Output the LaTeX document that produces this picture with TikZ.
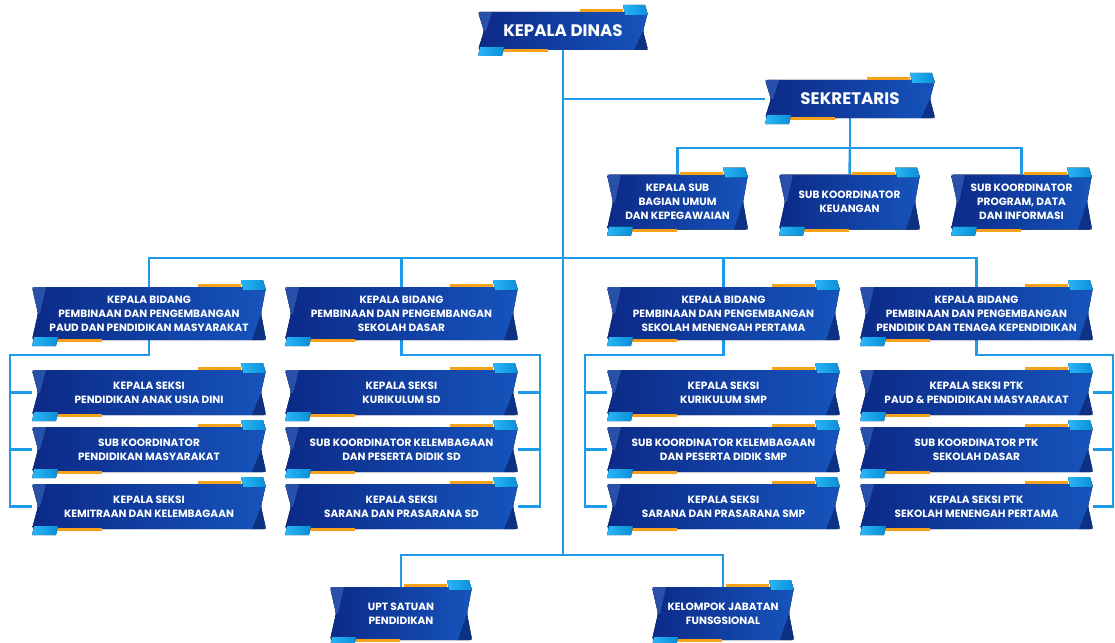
\documentclass[tikz,border=0pt]{standalone}
\usepackage{fontspec}
\setmainfont{Poppins}
\usetikzlibrary{backgrounds}

\definecolor{navy}{HTML}{0C2A88}
\definecolor{royal}{HTML}{1654BC}
\definecolor{sky}{HTML}{29B6F6}
\definecolor{skydark}{HTML}{0A8ED8}
\definecolor{amber}{HTML}{F7A21B}
\definecolor{wire}{HTML}{1E9BE6}

\tikzset{
  unit/.style={inner sep=0pt, align=center, text=white, font=\bfseries\fontsize{6}{7.9}\selectfont},
  bigunit/.style={unit, font=\bfseries\fontsize{9.5}{11}\selectfont},
  link/.style={draw=wire, line width=1.4pt},
}

% kotak unit: nama, x, y, lebar, tinggi, gaya, teks
\newcommand{\unitbox}[7]{%
  \begin{scope}[shift={(#2,#3)}]
    \pgfmathsetmacro\ha{#4/2}
    \pgfmathsetmacro\hb{#5/2}
    \fill[left color=navy, right color=royal, rounded corners=1.5pt]
      (-\ha,-\hb) -- (\ha,-\hb) -- (\ha-5,0) -- (\ha,\hb) -- (-\ha,\hb) -- (-\ha+6,0) -- cycle;
    \fill[royal!80!white, opacity=0.5] (-\ha,-\hb) -- (-\ha+14,-\hb) -- (-\ha+8,0) -- (-\ha+6,0) -- cycle;
    \fill[navy!70!black, opacity=0.6] (\ha-5,0) -- (\ha,\hb) -- (\ha-14,\hb) -- cycle;
    \fill[amber] (\ha-68,-\hb-3) rectangle (\ha-25,-\hb);
    \fill[left color=sky, right color=skydark] (\ha-25,-\hb-7) -- (\ha-3,-\hb-7) -- (\ha,-\hb+3) -- (\ha-23,-\hb+3) -- cycle;
    \fill[amber] (-\ha+25,\hb-1) rectangle (-\ha+70,\hb+2);
    \fill[left color=sky, right color=skydark] (-\ha+2,\hb-3) -- (-\ha+26,\hb-3) -- (-\ha+24,\hb+6) -- (-\ha,\hb+6) -- cycle;
  \end{scope}
  \node[#6, minimum width=#4*0.02cm, minimum height=#5*0.02cm] (#1) at (#2,#3) {#7};
}

\begin{document}
\begin{tikzpicture}[x=0.02cm, y=-0.02cm]
  \useasboundingbox (0,0) rectangle (1115,642);

  % pimpinan
  \unitbox{kadis}{563}{31}{170}{38}{bigunit}{KEPALA DINAS}
  \unitbox{sekretaris}{850}{99}{170}{38}{bigunit}{SEKRETARIS}

  % sekretariat
  \unitbox{subumum}{677.5}{202}{141}{55}{unit}{KEPALA SUB\\BAGIAN UMUM\\DAN KEPEGAWAIAN}
  \unitbox{subkeu}{849.5}{202}{141}{55}{unit}{SUB KOORDINATOR\\KEUANGAN}
  \unitbox{subprog}{1021.5}{202}{141}{55}{unit}{SUB KOORDINATOR\\PROGRAM, DATA\\DAN INFORMASI}

  % bidang
  \unitbox{bidpaud}{149}{313.5}{234}{53}{unit}{KEPALA BIDANG\\PEMBINAAN DAN PENGEMBANGAN\\PAUD DAN PENDIDIKAN MASYARAKAT}
  \unitbox{bidsd}{401.5}{313.5}{233}{53}{unit}{KEPALA BIDANG\\PEMBINAAN DAN PENGEMBANGAN\\SEKOLAH DASAR}
  \unitbox{bidsmp}{723.5}{313.5}{233}{53}{unit}{KEPALA BIDANG\\PEMBINAAN DAN PENGEMBANGAN\\SEKOLAH MENENGAH PERTAMA}
  \unitbox{bidptk}{976.5}{313.5}{233}{53}{unit}{KEPALA BIDANG\\PEMBINAAN DAN PENGEMBANGAN\\PENDIDIK DAN TENAGA KEPENDIDIKAN}

  % seksi paud
  \unitbox{pauda}{149}{392.5}{234}{45}{unit}{KEPALA SEKSI\\PENDIDIKAN ANAK USIA DINI}
  \unitbox{paudb}{149}{449.5}{234}{45}{unit}{SUB KOORDINATOR\\PENDIDIKAN MASYARAKAT}
  \unitbox{paudc}{149}{506.5}{234}{45}{unit}{KEPALA SEKSI\\KEMITRAAN DAN KELEMBAGAAN}
  % seksi sd
  \unitbox{sda}{401.5}{392.5}{233}{45}{unit}{KEPALA SEKSI\\KURIKULUM SD}
  \unitbox{sdb}{401.5}{449.5}{233}{45}{unit}{SUB KOORDINATOR KELEMBAGAAN\\DAN PESERTA DIDIK SD}
  \unitbox{sdc}{401.5}{506.5}{233}{45}{unit}{KEPALA SEKSI\\SARANA DAN PRASARANA SD}
  % seksi smp
  \unitbox{smpa}{723.5}{392.5}{233}{45}{unit}{KEPALA SEKSI\\KURIKULUM SMP}
  \unitbox{smpb}{723.5}{449.5}{233}{45}{unit}{SUB KOORDINATOR KELEMBAGAAN\\DAN PESERTA DIDIK SMP}
  \unitbox{smpc}{723.5}{506.5}{233}{45}{unit}{KEPALA SEKSI\\SARANA DAN PRASARANA SMP}
  % seksi ptk
  \unitbox{ptka}{976.5}{392.5}{233}{45}{unit}{KEPALA SEKSI PTK\\PAUD \& PENDIDIKAN MASYARAKAT}
  \unitbox{ptkb}{976.5}{449.5}{233}{45}{unit}{SUB KOORDINATOR PTK\\SEKOLAH DASAR}
  \unitbox{ptkc}{976.5}{506.5}{233}{45}{unit}{KEPALA SEKSI PTK\\SEKOLAH MENENGAH PERTAMA}

  % upt dan fungsional
  \unitbox{upt}{401}{613.5}{142}{53}{unit}{UPT SATUAN\\PENDIDIKAN}
  \unitbox{jfung}{723}{613.5}{142}{53}{unit}{KELOMPOK JABATAN\\FUNSGSIONAL}

  % titik cabang
  \coordinate (jsek) at (850,148);
  \coordinate (jbid) at (563,258);
  \coordinate (jbot) at (563,555);
  \coordinate (ja) at (10,355);
  \coordinate (jb) at (540,355);
  \coordinate (jc) at (585,355);
  \coordinate (jd) at (1113,355);

  % garis
  \begin{pgfonlayer}{background}
    \draw[link] (kadis.south) -- (jbot);
    \draw[link] (kadis.south |- sekretaris.west) -- (sekretaris.west);
    \draw[link] (sekretaris.south) -- (jsek);
    \draw[link] (subumum.north) -- (subumum.north |- jsek) -- (subprog.north |- jsek) -- (subprog.north);
    \draw[link] (subkeu.north) -- (jsek);
    \draw[link] (bidpaud.north) -- (bidpaud.north |- jbid) -- (bidptk.north |- jbid) -- (bidptk.north);
    \draw[link] (bidsd.north) -- (bidsd.north |- jbid);
    \draw[link] (bidsmp.north) -- (bidsmp.north |- jbid);

    \draw[link] (bidpaud.south) -- (bidpaud.south |- ja) -- (ja) -- (ja |- paudc.west) -- (paudc.west);
    \draw[link] (ja |- pauda.west) -- (pauda.west);
    \draw[link] (ja |- paudb.west) -- (paudb.west);

    \draw[link] (bidsd.south) -- (bidsd.south |- jb) -- (jb) -- (jb |- sdc.east) -- (sdc.east);
    \draw[link] (jb |- sda.east) -- (sda.east);
    \draw[link] (jb |- sdb.east) -- (sdb.east);

    \draw[link] (bidsmp.south) -- (bidsmp.south |- jc) -- (jc) -- (jc |- smpc.west) -- (smpc.west);
    \draw[link] (jc |- smpa.west) -- (smpa.west);
    \draw[link] (jc |- smpb.west) -- (smpb.west);

    \draw[link] (bidptk.south) -- (bidptk.south |- jd) -- (jd) -- (jd |- ptkc.east) -- (ptkc.east);
    \draw[link] (jd |- ptka.east) -- (ptka.east);
    \draw[link] (jd |- ptkb.east) -- (ptkb.east);

    \draw[link] (upt.north) -- (upt.north |- jbot) -- (jfung.north |- jbot) -- (jfung.north);
  \end{pgfonlayer}
\end{tikzpicture}
\end{document}
